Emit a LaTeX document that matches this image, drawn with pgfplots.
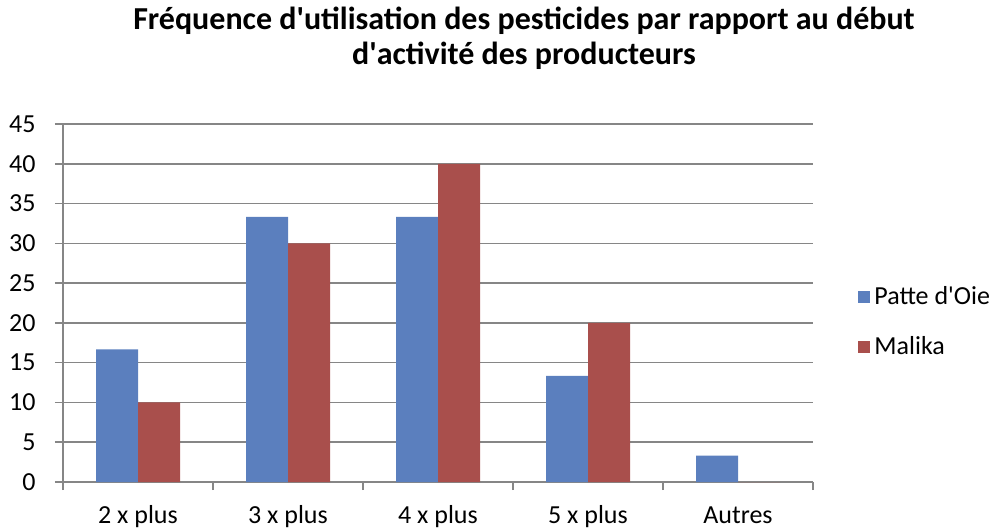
\documentclass[border=0pt]{standalone}
\usepackage{pgfplots}
\pgfplotsset{compat=1.18}
\usepackage{fontspec}
\setmainfont{Carlito}
\definecolor{bblue}{RGB}{91,127,190}
\definecolor{bred}{RGB}{169,79,76}
\definecolor{gridg}{RGB}{134,134,134}
\begin{document}
\begin{tikzpicture}
\begin{axis}[
 scale only axis, width=375pt, height=179pt,
 ybar=0pt, bar width=21pt,
 xmin=-0.5, xmax=4.5, ymin=0, ymax=45,
 ytick={0,5,...,45},
 xtick={0,...,4}, xticklabels={2 x plus,3 x plus,4 x plus,5 x plus,Autres},
 minor xtick={-0.5,0.5,...,4.5},
 major x tick style={draw=none},
 ymajorgrids, grid style={gridg, line width=0.8pt},
 axis x line*=bottom, axis y line*=left,
 axis line style={gridg, line width=0.8pt, -},
 tick align=outside, tick style={gridg, line width=0.8pt},
 major tick length=4pt, minor tick length=4pt,
 /pgf/number format/assume math mode=true,
 ticklabel style={font=\fontsize{13}{15}\selectfont, text=black},
 yticklabel style={anchor=east, inner sep=0pt, xshift=-9.5pt},
 xticklabel style={anchor=base, inner sep=0pt, yshift=-16.5pt},
 legend style={draw=none, fill=none, at={(1.06,0.447)}, anchor=west,
   font=\fontsize{13}{15}\selectfont, row sep=10pt, inner sep=0pt},
 legend cell align=left,
]
\addplot[fill=bblue, draw=none, legend image code/.code={\fill[bblue] (0pt,-3pt) rectangle (6pt,3pt);}]
 coordinates {(0,16.67) (1,33.33) (2,33.33) (3,13.33) (4,3.33)};
\addplot[fill=bred, draw=none, legend image code/.code={\fill[bred] (0pt,-3pt) rectangle (6pt,3pt);}]
 coordinates {(0,10) (1,30) (2,40) (3,20) (4,0)};
\legend{Patte d\textquotesingle Oie, Malika}
\coordinate (o) at (rel axis cs:0,0);
\end{axis}
\node[anchor=base, font=\bfseries\fontsize{16}{19}\selectfont] at ([shift={(230.5pt,226pt)}]o) {Fréquence d\textquotesingle utilisation des pesticides par rapport au début};
\node[anchor=base, font=\bfseries\fontsize{16}{19}\selectfont] at ([shift={(230.5pt,208.5pt)}]o) {d\textquotesingle activité des producteurs};
\pgfresetboundingbox
\path[use as bounding box] ([shift={(-31.5pt,-24pt)}]o) rectangle ([shift={(468pt,241pt)}]o);
\end{tikzpicture}
\end{document}
